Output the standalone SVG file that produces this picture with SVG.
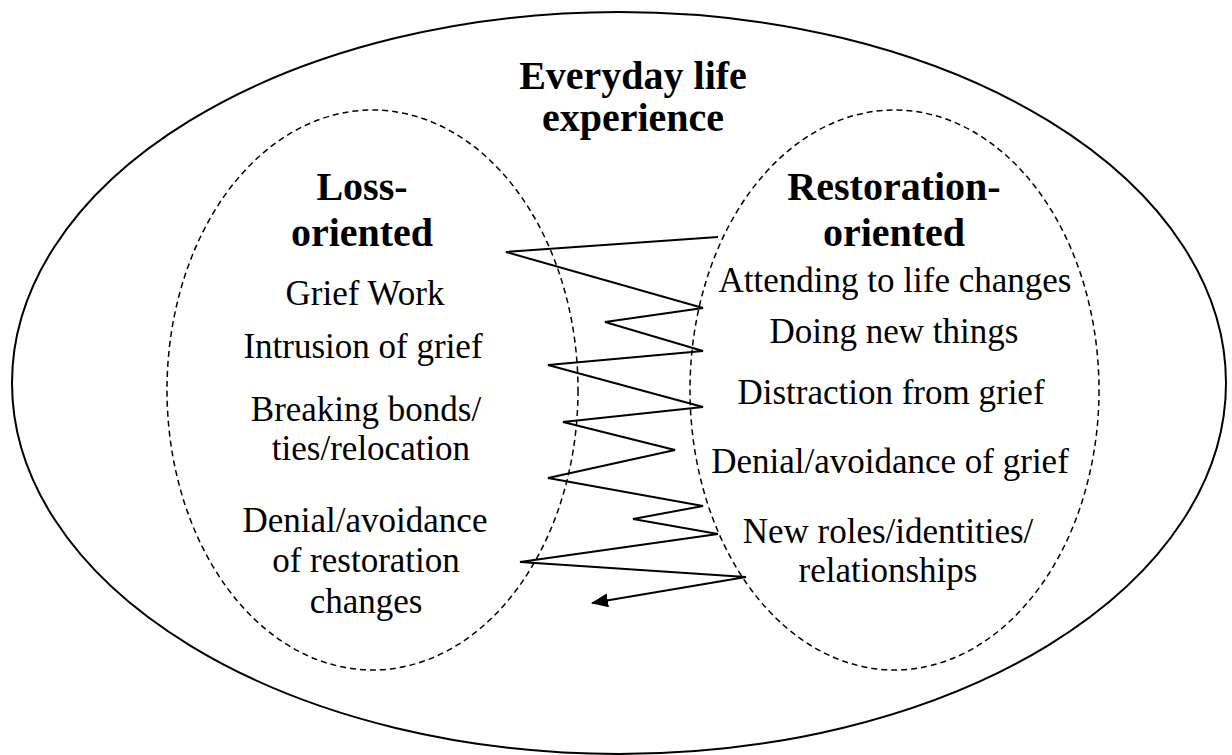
<svg xmlns="http://www.w3.org/2000/svg" width="1232" height="755" viewBox="0 0 1232 755">
  <style>
    .title { font-family: "Liberation Serif", "Times New Roman", serif; font-weight: bold; font-size: 40px; fill: #000; text-anchor: middle; }
    .item { font-family: "Liberation Serif", "Times New Roman", serif; font-size: 35px; fill: #000; text-anchor: middle; }
    .outer { fill: none; stroke: #000; stroke-width: 2; }
    .dashed { fill: none; stroke: #000; stroke-width: 1.5; stroke-dasharray: 6 4; }
    .zig { fill: none; stroke: #000; stroke-width: 2; stroke-linejoin: miter; }
  </style>
  <defs>
    <marker id="arrow" markerUnits="userSpaceOnUse" markerWidth="18" markerHeight="14" refX="16" refY="7" orient="auto">
      <path d="M0,0 L17,7 L0,14 z" fill="#000"/>
    </marker>
  </defs>
  <rect width="1232" height="755" fill="#fff"/>

  <g id="everyday-life">
    <ellipse class="outer" cx="619" cy="383" rx="607" ry="371"/>
    <text class="title" x="633" y="89">Everyday life</text>
    <text class="title" x="633" y="131">experience</text>
  </g>

  <g id="loss-oriented">
    <ellipse class="dashed" cx="372.5" cy="390" rx="205.5" ry="280"/>
    <text class="title" x="362" y="200">Loss-</text>
    <text class="title" x="362" y="246">oriented</text>
    <text class="item" x="365" y="305">Grief Work</text>
    <text class="item" x="363" y="358">Intrusion of grief</text>
    <text class="item" x="366" y="421">Breaking bonds/</text>
    <text class="item" x="371" y="460">ties/relocation</text>
    <text class="item" x="365" y="532">Denial/avoidance</text>
    <text class="item" x="366" y="572">of restoration</text>
    <text class="item" x="366" y="613">changes</text>
  </g>

  <g id="restoration-oriented">
    <ellipse class="dashed" cx="894.5" cy="390" rx="204.5" ry="280"/>
    <text class="title" x="894" y="200">Restoration-</text>
    <text class="title" x="894" y="246">oriented</text>
    <text class="item" x="895" y="292">Attending to life changes</text>
    <text class="item" x="894" y="343">Doing new things</text>
    <text class="item" x="891" y="404">Distraction from grief</text>
    <text class="item" x="890" y="473">Denial/avoidance of grief</text>
    <text class="item" x="888" y="543">New roles/identities/</text>
    <text class="item" x="888" y="582">relationships</text>
  </g>

  <g id="connectors">
    <polyline class="zig" marker-end="url(#arrow)" points="718,237 506,252 703,308 605,322 703,351 548,365 703,407 563,422 675,450 548,478 703,506 633,519 718,534 520,562 746,577 592,603"/>
  </g>
</svg>
